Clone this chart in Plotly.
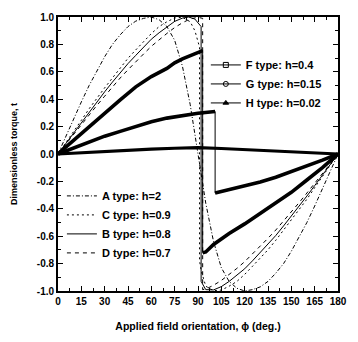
import plotly.graph_objects as go

# ---------------- data ----------------
phi_A = [0, 5, 10, 15, 20, 25, 30, 35, 40, 45, 50, 55, 60, 65, 70, 75, 80, 85, 90,
         95, 100, 105, 110, 115, 120, 125, 130, 135, 140, 145, 150, 155, 160, 165, 170, 175, 180]
t_A = [0, 0.13, 0.25, 0.38, 0.50, 0.61, 0.71, 0.80, 0.87, 0.93, 0.97, 0.99, 1.0, 0.98, 0.93, 0.83, 0.64, 0.36, 0.0,
       -0.36, -0.64, -0.83, -0.93, -0.98, -1.0, -0.99, -0.97, -0.93, -0.87, -0.80, -0.71, -0.61, -0.50, -0.38, -0.25, -0.13, 0.0]

phi_C = [0, 5, 10, 15, 20, 25, 30, 35, 40, 45, 50, 55, 60, 65, 70, 75, 80, 85, 88, 90, 91,
         91, 92, 95, 100, 105, 110, 115, 120, 125, 130, 135, 140, 145, 150, 155, 160, 165, 170, 175, 180]
t_C = [0, 0.08, 0.165, 0.246, 0.33, 0.41, 0.483, 0.555, 0.63, 0.699, 0.76, 0.82, 0.879, 0.93, 0.965, 0.993, 0.998, 0.965, 0.90, 0.82, 0.78,
       -0.78, -0.85, -0.965, -0.998, -0.993, -0.965, -0.93, -0.879, -0.82, -0.76, -0.699, -0.63, -0.555, -0.483, -0.41, -0.33, -0.246, -0.165, -0.08, 0.0]

phi_B = [0, 5, 10, 15, 20, 25, 30, 35, 40, 45, 50, 55, 60, 65, 70, 75, 80, 84, 88, 90, 92,
         92, 95, 100, 105, 110, 115, 120, 125, 130, 135, 140, 145, 150, 155, 160, 165, 170, 175, 180]
t_B = [0, 0.077, 0.155, 0.231, 0.307, 0.38, 0.454, 0.525, 0.595, 0.66, 0.72, 0.78, 0.838, 0.885, 0.93, 0.968, 0.992, 1.0, 0.985, 0.96, 0.93,
       -0.93, -0.99, -0.992, -0.968, -0.93, -0.885, -0.838, -0.78, -0.72, -0.66, -0.595, -0.525, -0.454, -0.38, -0.307, -0.231, -0.155, -0.077, 0.0]

phi_D = [0, 5, 10, 15, 20, 25, 30, 35, 40, 45, 50, 55, 60, 65, 70, 75, 80, 85, 90, 93,
         93, 95, 100, 105, 110, 115, 120, 125, 130, 135, 140, 145, 150, 155, 160, 165, 170, 175, 180]
t_D = [0, 0.072, 0.144, 0.215, 0.285, 0.355, 0.422, 0.49, 0.555, 0.615, 0.675, 0.73, 0.786, 0.835, 0.88, 0.923, 0.958, 0.986, 0.998, 0.99,
       -0.99, -0.986, -0.958, -0.923, -0.88, -0.835, -0.786, -0.73, -0.675, -0.615, -0.555, -0.49, -0.422, -0.355, -0.285, -0.215, -0.144, -0.072, 0.0]

phi_F_up = [0, 10, 20, 30, 40, 50, 60, 70, 75, 80, 85, 90, 93]
t_F_up = [0, 0.10, 0.20, 0.30, 0.395, 0.49, 0.565, 0.625, 0.665, 0.695, 0.72, 0.74, 0.755]
phi_F_dn = [93, 95, 100, 110, 120, 130, 140, 150, 160, 170, 180]
t_F_dn = [-0.72, -0.715, -0.66, -0.58, -0.51, -0.435, -0.36, -0.28, -0.19, -0.10, 0.0]

phi_G_up = [0, 10, 20, 30, 40, 50, 60, 70, 80, 90, 101]
t_G_up = [0, 0.045, 0.09, 0.13, 0.165, 0.20, 0.235, 0.262, 0.283, 0.298, 0.31]
phi_G_dn = [101, 110, 120, 130, 140, 150, 160, 170, 180]
t_G_dn = [-0.285, -0.26, -0.235, -0.205, -0.17, -0.13, -0.09, -0.045, 0.0]

phi_H = [0, 15, 30, 45, 60, 75, 90, 105, 120, 135, 150, 165, 180]
t_H = [0, 0.01, 0.02, 0.028, 0.036, 0.042, 0.046, 0.04, 0.031, 0.023, 0.015, 0.007, 0.0]

x_ticks = [0, 15, 30, 45, 60, 75, 90, 105, 120, 135, 150, 165, 180]
y_ticks = [-1.0, -0.8, -0.6, -0.4, -0.2, 0.0, 0.2, 0.4, 0.6, 0.8, 1.0]
y_ticktext = ["-1.0", "-0.8", "-0.6", "-0.4", "-0.2", "0.0", "0.2", "0.4", "0.6", "0.8", "1.0"]

# ---------------- figure ----------------
BLK = "black"
FONT = "Liberation Sans, Arial, sans-serif"
fig = go.Figure()

# thin line curves (legend 2)
fig.add_trace(go.Scatter(x=phi_A, y=t_A, mode="lines", name="A type: h=2",
                         line=dict(color=BLK, width=1, dash="4px,2px,1px,2px"), legend="legend2"))
fig.add_trace(go.Scatter(x=phi_C, y=t_C, mode="lines", name="C type: h=0.9",
                         line=dict(color=BLK, width=1, dash="2px,3px"), legend="legend2"))
fig.add_trace(go.Scatter(x=phi_B, y=t_B, mode="lines", name="B type: h=0.8",
                         line=dict(color=BLK, width=1), legend="legend2"))
fig.add_trace(go.Scatter(x=phi_D, y=t_D, mode="lines", name="D type: h=0.7",
                         line=dict(color=BLK, width=1, dash="4px,4px"), legend="legend2"))

# F, G: thin connecting line (incl. vertical jump) + thick marker bands
fig.add_trace(go.Scatter(x=phi_F_up + phi_F_dn, y=t_F_up + t_F_dn, mode="lines",
                         line=dict(color=BLK, width=1), showlegend=False))
fig.add_trace(go.Scatter(x=phi_F_up, y=t_F_up, mode="lines", line=dict(color=BLK, width=3.6), showlegend=False))
fig.add_trace(go.Scatter(x=phi_F_dn, y=t_F_dn, mode="lines", line=dict(color=BLK, width=3.6), showlegend=False))
fig.add_trace(go.Scatter(x=phi_G_up + phi_G_dn, y=t_G_up + t_G_dn, mode="lines",
                         line=dict(color=BLK, width=1), showlegend=False))
fig.add_trace(go.Scatter(x=phi_G_up, y=t_G_up, mode="lines", line=dict(color=BLK, width=3.6), showlegend=False))
fig.add_trace(go.Scatter(x=phi_G_dn, y=t_G_dn, mode="lines", line=dict(color=BLK, width=3.6), showlegend=False))
fig.add_trace(go.Scatter(x=phi_H, y=t_H, mode="lines", line=dict(color=BLK, width=3.2), showlegend=False))

# legend entries for F, G, H (thin line with small marker)
for nm, sym in [("F type: h=0.4", "square-open"), ("G type: h=0.15", "circle-open"), ("H type: h=0.02", "triangle-up")]:
    fig.add_trace(go.Scatter(x=[None], y=[None], mode="lines+markers", name=nm,
                             line=dict(color=BLK, width=1),
                             marker=dict(symbol=sym, size=5, color=BLK, line=dict(color=BLK, width=1)),
                             legend="legend"))

# the page body has an 8px default margin, so the figure is sized to fit inside the window
legend_font = dict(family=FONT, size=11, color=BLK, weight="bold")
fig.update_layout(
    width=342, height=326,
    margin=dict(l=50, r=8, t=3, b=37),
    paper_bgcolor="white", plot_bgcolor="white",
    font=dict(family=FONT, color=BLK),
    legend=dict(x=0.528, y=0.878, xanchor="left", yanchor="top", bgcolor="rgba(0,0,0,0)",
                font=legend_font, itemwidth=30, tracegroupgap=0),
    legend2=dict(x=0.014, y=0.40, xanchor="left", yanchor="top", bgcolor="rgba(0,0,0,0)",
                 font=legend_font, itemwidth=30, tracegroupgap=0),
    xaxis=dict(range=[0, 180], tickvals=x_ticks, ticks="inside", ticklen=5, tickwidth=1.2,
               tickcolor=BLK, showline=True, linecolor=BLK, linewidth=1.8, mirror="allticks",
               showgrid=False, zeroline=False, ticklabeloverflow="allow",
               minor=dict(dtick=7.5, ticks="inside", ticklen=3, tickcolor=BLK, tickwidth=1),
               tickfont=dict(family=FONT, size=10, color=BLK, weight="bold"),
               title=dict(text="Applied field orientation, \u03d5 (deg.)",
                          font=dict(family=FONT, size=10.5, color=BLK, weight="bold"), standoff=17)),
    yaxis=dict(range=[-1, 1], tickvals=y_ticks, ticktext=y_ticktext, ticks="inside", ticklen=5, tickwidth=1.2,
               tickcolor=BLK, showline=True, linecolor=BLK, linewidth=1.8, mirror="allticks",
               showgrid=False, zeroline=False, ticklabeloverflow="allow",
               minor=dict(dtick=0.1, ticks="inside", ticklen=3, tickcolor=BLK, tickwidth=1),
               tickfont=dict(family=FONT, size=10, color=BLK, weight="bold"),
               title=dict(text="Dimensionless torque, t",
                          font=dict(family=FONT, size=9, color=BLK, weight="bold"), standoff=18)),
)

fig.write_html("out.html")
